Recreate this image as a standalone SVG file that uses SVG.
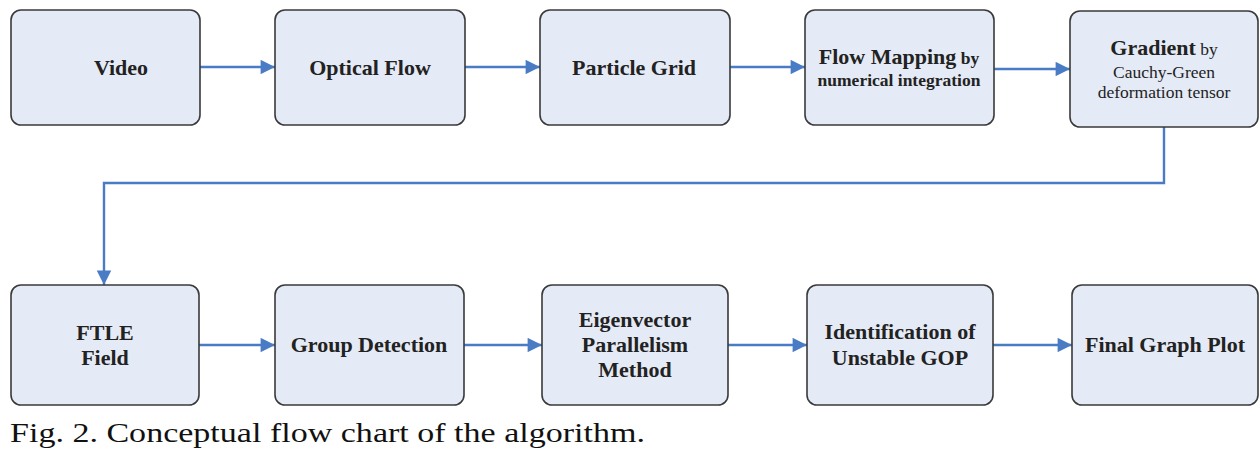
<svg xmlns="http://www.w3.org/2000/svg" width="1260" height="451" viewBox="0 0 1260 451">
  <style>
    .box { fill: #e5ebf6; stroke: #3a3a3a; stroke-width: 1.6; }
    .lbl { font-family: "Liberation Serif", "Times New Roman", serif; font-weight: bold; font-size: 22px; fill: #222; text-anchor: middle; }
    .sm { font-size: 17.5px; }
    .reg { font-weight: normal; }
    .edge { fill: none; stroke: #4a7cc6; stroke-width: 2.4; }
    .cap { font-family: "Liberation Serif", "Times New Roman", serif; font-size: 27px; fill: #111; }
  </style>
  <defs>
    <marker id="arrow" viewBox="0 0 10 10" refX="10" refY="5" markerWidth="6.5" markerHeight="6" orient="auto" markerUnits="strokeWidth">
      <path d="M0,0 L10,5 L0,10 z" fill="#4a7cc6"/>
    </marker>
  </defs>
  <rect width="1260" height="451" fill="#ffffff"/>

  <g id="connectors">
    <line class="edge" x1="200" y1="67" x2="275" y2="67" marker-end="url(#arrow)"/>
    <line class="edge" x1="465" y1="67" x2="540" y2="67" marker-end="url(#arrow)"/>
    <line class="edge" x1="730" y1="67" x2="805" y2="67" marker-end="url(#arrow)"/>
    <line class="edge" x1="994" y1="69" x2="1070" y2="69" marker-end="url(#arrow)"/>
    <polyline class="edge" points="1164,127 1164,183 104,183 104,285" marker-end="url(#arrow)"/>
    <line class="edge" x1="199" y1="345" x2="275" y2="345" marker-end="url(#arrow)"/>
    <line class="edge" x1="464" y1="345" x2="542" y2="345" marker-end="url(#arrow)"/>
    <line class="edge" x1="728" y1="345" x2="807" y2="345" marker-end="url(#arrow)"/>
    <line class="edge" x1="993" y1="345" x2="1072" y2="345" marker-end="url(#arrow)"/>
  </g>

  <g id="video">
    <rect class="box" x="11" y="10" width="189" height="115" rx="10"/>
    <text class="lbl" x="121" y="75">Video</text>
  </g>
  <g id="optical-flow">
    <rect class="box" x="275" y="10" width="190" height="115" rx="10"/>
    <text class="lbl" x="370" y="75">Optical Flow</text>
  </g>
  <g id="particle-grid">
    <rect class="box" x="540" y="10" width="190" height="115" rx="10"/>
    <text class="lbl" x="634" y="75">Particle Grid</text>
  </g>
  <g id="flow-mapping">
    <rect class="box" x="805" y="10" width="189" height="115" rx="10"/>
    <text class="lbl" x="899" y="64">Flow Mapping<tspan class="sm"> by</tspan></text>
    <text class="lbl sm" x="899" y="86">numerical integration</text>
  </g>
  <g id="gradient">
    <rect class="box" x="1070" y="11" width="188" height="116" rx="10"/>
    <text class="lbl" x="1164" y="55">Gradient<tspan class="sm reg"> by</tspan></text>
    <text class="lbl sm reg" x="1164" y="78">Cauchy-Green</text>
    <text class="lbl sm reg" x="1164" y="98">deformation tensor</text>
  </g>

  <g id="ftle-field">
    <rect class="box" x="11" y="285" width="188" height="120" rx="10"/>
    <text class="lbl" x="105" y="340">FTLE</text>
    <text class="lbl" x="105" y="365">Field</text>
  </g>
  <g id="group-detection">
    <rect class="box" x="275" y="285" width="189" height="120" rx="10"/>
    <text class="lbl" x="369" y="352">Group Detection</text>
  </g>
  <g id="eigenvector-parallelism">
    <rect class="box" x="542" y="285" width="186" height="120" rx="10"/>
    <text class="lbl" x="635" y="327">Eigenvector</text>
    <text class="lbl" x="635" y="352">Parallelism</text>
    <text class="lbl" x="635" y="377">Method</text>
  </g>
  <g id="unstable-gop">
    <rect class="box" x="807" y="285" width="186" height="120" rx="10"/>
    <text class="lbl" x="900" y="339">Identification of</text>
    <text class="lbl" x="900" y="365">Unstable GOP</text>
  </g>
  <g id="final-plot">
    <rect class="box" x="1072" y="285" width="186" height="120" rx="10"/>
    <text class="lbl" x="1165" y="352">Final Graph Plot</text>
  </g>

  <text class="cap" x="10" y="442" textLength="635" lengthAdjust="spacingAndGlyphs">Fig. 2. Conceptual flow chart of the algorithm.</text>
</svg>
